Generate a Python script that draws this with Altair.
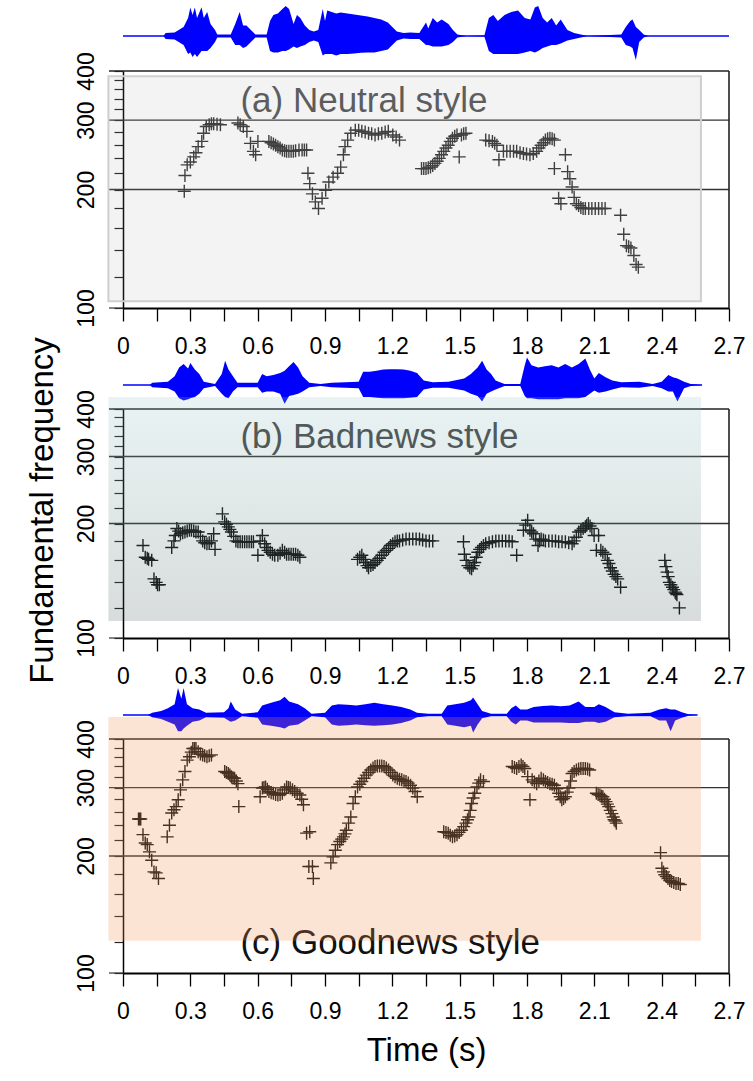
import altair as alt
import pandas as pd

FONT = "Liberation Sans"
CROSS = "M-1,0L1,0M0,-1L0,1"

# ---------------- tick values ----------------
x_tick_values = [0, 0.15, 0.3, 0.45, 0.6, 0.75, 0.9, 1.05, 1.2, 1.35, 1.5, 1.65,
                 1.8, 1.95, 2.1, 2.25, 2.4, 2.55, 2.7]
y_tick_values = [100, 120, 140, 160, 180, 200, 220, 240, 260, 280, 300, 320, 340,
                 360, 380, 400]
grid_values = [200, 300]
top_values = [400]
bottom_values = [100]

# ---------------- (a) Neutral: F0 (s, Hz) ----------------
a_t = [0.273, 0.276, 0.286, 0.300, 0.315, 0.325, 0.335, 0.351, 0.359, 0.371, 0.384, 0.394, 0.404, 0.419, 0.434,
       0.512, 0.522, 0.536, 0.552, 0.568, 0.581, 0.591, 0.601,
       0.650, 0.660, 0.670, 0.680, 0.690, 0.700, 0.710, 0.720, 0.729, 0.739, 0.749, 0.759, 0.769, 0.784, 0.798, 0.808, 0.818,
       0.824, 0.832, 0.844, 0.857, 0.871, 0.887, 0.903, 0.917, 0.936, 0.956, 0.970, 0.982, 0.989, 1.001, 1.015, 1.035,
       1.050, 1.064, 1.079, 1.094, 1.108, 1.123, 1.138, 1.153, 1.168, 1.182, 1.202, 1.217, 1.232,
       1.330, 1.340, 1.350, 1.360, 1.370, 1.380, 1.390, 1.400, 1.409, 1.419, 1.429, 1.439, 1.449, 1.458, 1.468, 1.478,
       1.488, 1.498, 1.508, 1.518, 1.528,
       1.616, 1.631, 1.646, 1.656, 1.666, 1.675, 1.695, 1.710, 1.725, 1.740, 1.754, 1.769, 1.784, 1.798, 1.813, 1.828,
       1.843, 1.853, 1.863, 1.873, 1.882, 1.892, 1.902, 1.912, 1.922,
       1.922, 1.941, 1.951, 1.971, 1.981, 1.991, 2.001, 2.010, 2.020, 2.030, 2.040, 2.050, 2.060, 2.075, 2.089, 2.104,
       2.119, 2.134, 2.148,
       2.217, 2.231, 2.243, 2.253, 2.263, 2.276, 2.286, 2.296]
a_f = [198, 217, 231, 235, 242, 248, 257, 265, 278, 289, 292, 294, 294, 293, 292,
       295, 292, 289, 281, 262, 250, 245, 265,
       265, 263, 261, 259, 257, 255, 252, 251, 250, 250, 250, 250, 251, 252, 252, 252, 252,
       220, 207, 195, 186, 179, 190, 199, 209, 215, 220, 228, 245, 257, 267, 278, 283,
       283, 281, 280, 278, 277, 275, 277, 278, 280, 281, 275, 272, 267,
       226, 226, 226, 227, 228, 230, 233, 236, 240, 245, 250, 255, 259, 265, 270, 273,
       275, 242, 275, 277, 278,
       267, 266, 265, 262, 259, 238, 250, 250, 250, 250, 250, 248, 247, 246, 245, 247,
       250, 255, 259, 263, 267, 269, 270, 269, 267,
       226, 190, 184, 245, 222, 213, 203, 191, 184, 182, 180, 179, 179, 179, 179, 179,
       179, 179, 179,
       172, 154, 144, 143, 142, 136, 129, 127]

# ---------------- (b) Badnews: F0 ----------------
b_t = [0.089, 0.099, 0.108, 0.114, 0.128, 0.138, 0.148, 0.154, 0.162,
       0.217, 0.227, 0.233, 0.240, 0.248, 0.256, 0.266, 0.276, 0.286, 0.296, 0.305, 0.315, 0.325, 0.335, 0.345, 0.355,
       0.364, 0.374, 0.384, 0.394, 0.404, 0.410,
       0.443, 0.453, 0.461, 0.469, 0.476, 0.483, 0.493, 0.503, 0.512, 0.522, 0.532, 0.542, 0.552, 0.562, 0.572, 0.581,
       0.601, 0.611, 0.621, 0.631, 0.639, 0.646, 0.656, 0.666, 0.676, 0.690, 0.700, 0.710, 0.720, 0.729, 0.739, 0.749,
       0.759, 0.769, 0.779, 0.788,
       1.045, 1.055, 1.064, 1.072, 1.080, 1.087, 1.094, 1.104, 1.114, 1.123, 1.133, 1.143, 1.153, 1.163, 1.173, 1.183,
       1.192, 1.202, 1.212, 1.222, 1.232, 1.246, 1.261, 1.276, 1.291, 1.306, 1.321, 1.335, 1.350, 1.365, 1.380,
       1.517, 1.521, 1.529, 1.537, 1.545, 1.553, 1.560, 1.567, 1.574, 1.581, 1.589, 1.597, 1.606, 1.616, 1.631, 1.646,
       1.661, 1.675, 1.690, 1.705, 1.720, 1.734, 1.754,
       1.784, 1.794, 1.803, 1.813, 1.821, 1.829, 1.839, 1.849, 1.856, 1.863, 1.873, 1.882, 1.897, 1.912, 1.927, 1.941,
       1.956, 1.971, 1.986, 2.001, 2.010, 2.020, 2.030, 2.040, 2.050, 2.060, 2.066, 2.073, 2.081, 2.089, 2.099, 2.109,
       2.119, 2.129, 2.138, 2.148, 2.158, 2.165, 2.172, 2.180, 2.188, 2.196, 2.204, 2.217,
       2.414, 2.419, 2.424, 2.429, 2.434, 2.441, 2.448, 2.454, 2.460, 2.464, 2.468, 2.479]
b_f = [175, 163, 162, 161, 160, 143, 140, 138, 138,
       173, 180, 186, 194, 191, 188, 189, 190, 191, 192, 192, 191, 190, 190, 185, 180,
       178, 177, 178, 180, 188, 171,
       212, 202, 199, 196, 193, 190, 185, 180, 179, 179, 179, 179, 179, 179, 179, 179,
       165, 180, 186, 177, 173, 170, 168, 166, 165, 165, 167, 170, 168, 166, 166, 166,
       166, 166, 165, 163,
       161, 163, 165, 161, 158, 155, 153, 155, 156, 158, 160, 162, 165, 168, 170, 172,
       175, 177, 179, 180, 180, 181, 182, 182, 182, 182, 182, 181, 180, 180, 180,
       179, 166, 160, 155, 153, 152, 155, 158, 163, 168, 171, 173, 175, 177, 178, 179,
       180, 180, 180, 180, 180, 179, 165,
       192, 198, 204, 192, 190, 188, 182, 175, 180, 182, 181, 180, 180, 180, 180, 179,
       179, 179, 178, 177, 180, 184, 190, 192, 194, 196, 198, 200, 197, 194, 186, 170,
       186, 170, 168, 166, 160, 157, 153, 150, 147, 145, 143, 136,
       160, 154, 149, 145, 140, 138, 136, 134, 132, 131, 130, 120]

# ---------------- (c) Goodnews: F0 ----------------
c_t = [0.069, 0.074, 0.079, 0.089, 0.099, 0.108, 0.118, 0.128, 0.138, 0.148, 0.158,
       0.197, 0.207, 0.217, 0.227, 0.237, 0.246, 0.256, 0.266, 0.276, 0.286, 0.296, 0.304, 0.311, 0.318, 0.325, 0.335,
       0.345, 0.355, 0.364, 0.374, 0.384, 0.394,
       0.453, 0.461, 0.469, 0.476, 0.483, 0.490, 0.497, 0.505, 0.512, 0.516,
       0.611, 0.621, 0.628, 0.635, 0.643, 0.650, 0.660, 0.670, 0.680, 0.690, 0.700, 0.710, 0.720, 0.729, 0.737, 0.745,
       0.755, 0.765, 0.776, 0.788, 0.796, 0.804, 0.818, 0.832,
       0.828, 0.844, 0.848,
       0.926, 0.936, 0.946, 0.956, 0.966, 0.974, 0.982, 0.989, 0.995, 1.005, 1.015, 1.025, 1.035, 1.045, 1.055, 1.064,
       1.074, 1.084, 1.094, 1.104, 1.114, 1.123, 1.133, 1.143, 1.153, 1.163, 1.173, 1.183, 1.192, 1.202, 1.212, 1.222,
       1.232, 1.242, 1.252, 1.261, 1.271, 1.281, 1.291, 1.301, 1.311,
       1.429, 1.439, 1.449, 1.458, 1.468, 1.478, 1.488, 1.498, 1.508, 1.518, 1.528, 1.535, 1.541, 1.547, 1.553, 1.560,
       1.567, 1.577, 1.585, 1.593, 1.606,
       1.734, 1.744, 1.754, 1.764, 1.774, 1.782, 1.790, 1.803, 1.813, 1.823, 1.833, 1.843, 1.853, 1.863, 1.873, 1.882,
       1.892, 1.902, 1.912, 1.922, 1.932, 1.941, 1.948, 1.955, 1.963, 1.971, 1.979, 1.987, 1.994, 2.001, 2.010, 2.020,
       2.030, 2.040, 2.050, 2.060, 2.070, 2.079,
       2.109, 2.117, 2.125, 2.132, 2.138, 2.145, 2.152, 2.158, 2.164, 2.171, 2.178, 2.184, 2.188, 2.193, 2.198,
       2.395, 2.401, 2.408, 2.414, 2.421, 2.428, 2.436, 2.444, 2.454, 2.464, 2.474, 2.483]
c_f = [249, 249, 249, 227, 216, 214, 205, 195, 182, 181, 175,
       224, 240, 258, 263, 268, 279, 296, 314, 330, 353, 360, 370, 378, 378, 378, 371,
       366, 364, 362, 360, 362, 364,
       330, 328, 326, 323, 320, 318, 317, 312, 307, 268,
       284, 299, 300, 301, 297, 293, 291, 290, 288, 287, 288, 290, 296, 301, 300, 299,
       296, 293, 290, 287, 280, 271, 229, 231,
       188, 188, 175,
       192, 199, 207, 214, 218, 221, 224, 228, 233, 243, 252, 273, 284, 301, 306, 311,
       317, 323, 328, 333, 337, 340, 341, 341, 341, 340, 337, 333, 328, 323, 320, 317,
       315, 314, 312, 311, 308, 304, 299, 293, 284,
       231, 230, 229, 226, 224, 225, 227, 230, 233, 238, 243, 248, 252, 262, 273, 282,
       290, 301, 308, 314, 311,
       340, 338, 336, 340, 343, 340, 336, 320, 279, 314, 310, 307, 312, 317, 314, 311,
       309, 307, 306, 304, 298, 290, 284, 279, 281, 284, 292, 299, 312, 326, 330, 333,
       335, 336, 336, 336, 335, 333,
       290, 288, 287, 285, 284, 280, 276, 272, 268, 262, 257, 252, 248, 246, 243,
       204, 186, 182, 179, 177, 175, 173, 172, 171, 170, 170, 169]

# ---------------- waveform envelopes (time s, upper, lower; relative amplitude) ----------------
wa_t = [0, 0.18, 0.19, 0.23, 0.27, 0.29, 0.30, 0.31, 0.32, 0.33, 0.35, 0.36, 0.375, 0.39, 0.41, 0.42, 0.48, 0.50,
        0.52, 0.535, 0.55, 0.57, 0.59, 0.64, 0.655, 0.67, 0.69, 0.71, 0.725, 0.74, 0.76, 0.775, 0.79, 0.81, 0.83,
        0.85, 0.87, 0.89, 0.90, 0.91, 0.93, 0.95, 0.97, 1.00, 1.03, 1.06, 1.09, 1.12, 1.15, 1.18, 1.20, 1.22, 1.25,
        1.28, 1.32, 1.35, 1.36, 1.38, 1.40, 1.42, 1.45, 1.47, 1.49, 1.53, 1.61, 1.63, 1.65, 1.67, 1.70, 1.73, 1.76,
        1.79, 1.815, 1.835, 1.85, 1.87, 1.89, 1.91, 1.93, 1.95, 1.98, 2.01, 2.04, 2.07, 2.22, 2.24, 2.26, 2.27,
        2.285, 2.30, 2.32, 2.34, 2.70]
wa_hi = [0, 0, 0.1, 0.12, 0.3, 0.6, 0.95, 0.7, 0.95, 0.6, 0.96, 0.6, 0.8, 0.4, 0.2, 0.05, 0.05, 0.4,
         0.8, 0.35, 0.35, 0.2, 0.05, 0.05, 0.5, 0.7, 0.75, 0.9, 1.0, 0.9, 0.4, 0.7, 0.6, 0.35, 0.2,
         0.15, 0.2, 0.9, 0.5, 0.85, 0.8, 0.75, 0.78, 0.75, 0.72, 0.68, 0.65, 0.6, 0.55, 0.45, 0.3, 0.15, 0.1,
         0.12, 0.1, 0.45, 0.25, 0.6, 0.45, 0.55, 0.4, 0.2, 0.05, 0, 0.02, 0.6, 0.7, 0.5, 0.7, 0.8, 0.85,
         0.6, 0.55, 0.95, 1.0, 0.6, 0.45, 0.6, 0.35, 0.55, 0.2, 0.1, 0.05, 0, 0.05, 0.3, 0.5, 0.55,
         0.3, 0.2, 0.05, 0, 0]
wa_lo = [0, 0, -0.1, -0.12, -0.3, -0.6, -0.55, -0.7, -0.6, -0.7, -0.5, -0.5, -0.5, -0.4, -0.2, -0.05, -0.05, -0.3,
         -0.3, -0.4, -0.35, -0.2, -0.05, -0.05, -0.5, -0.55, -0.55, -0.5, -0.5, -0.45, -0.35, -0.4, -0.35, -0.3, -0.2,
         -0.15, -0.2, -0.65, -0.6, -0.6, -0.6, -0.65, -0.6, -0.6, -0.58, -0.56, -0.55, -0.55, -0.5, -0.45, -0.3, -0.15,
         -0.08, -0.1, -0.1, -0.3, -0.3, -0.35, -0.35, -0.35, -0.3, -0.2, -0.05, 0, -0.02, -0.5, -0.6, -0.6, -0.6,
         -0.6, -0.6, -0.55, -0.5, -0.55, -0.5, -0.4, -0.35, -0.3, -0.3, -0.25, -0.15, -0.1, -0.05, 0, -0.05, -0.3,
         -0.35, -0.4, -0.8, -0.2, -0.05, 0, 0]

wb_t = [0, 0.12, 0.13, 0.20, 0.23, 0.25, 0.27, 0.29, 0.30, 0.32, 0.34, 0.36, 0.41, 0.44, 0.455, 0.47, 0.49, 0.51,
        0.60, 0.62, 0.64, 0.67, 0.70, 0.72, 0.74, 0.76, 0.78, 0.80, 0.83, 0.88, 0.93, 1.05, 1.07, 1.10, 1.13, 1.16,
        1.19, 1.22, 1.25, 1.28, 1.31, 1.34, 1.38, 1.45, 1.52, 1.55, 1.58, 1.60, 1.62, 1.64, 1.66, 1.70, 1.77, 1.79,
        1.80, 1.82, 1.85, 1.88, 1.91, 1.94, 1.97, 2.00, 2.03, 2.06, 2.08, 2.10, 2.12, 2.15, 2.18, 2.22, 2.30, 2.36,
        2.40, 2.43, 2.45, 2.47, 2.50, 2.53, 2.58]
wb_hi = [0, 0, 0.1, 0.15, 0.4, 0.8, 0.95, 0.75, 1.0, 0.7, 0.5, 0.15, 0.05, 0.5, 1.1, 0.7, 0.4, 0.1,
         0.1, 0.5, 0.4, 0.45, 0.55, 0.65, 0.85, 1.05, 0.8, 0.4, 0.1, 0.05, 0.1, 0.15, 0.6, 0.6, 0.65, 0.7,
         0.72, 0.72, 0.7, 0.65, 0.55, 0.2, 0.12, 0.15, 0.3, 0.5, 0.8, 1.1, 0.7, 0.5, 0.2, 0.05, 0.05, 0.9,
         1.25, 0.9, 0.8, 0.85, 0.9, 0.8, 0.95, 0.8, 0.95, 1.2, 0.7, 0.3, 0.55, 0.35, 0.2, 0.12, 0.15, 0.05,
         0.15, 0.45, 0.35, 0.3, 0.15, 0.05, 0]
wb_lo = [0, 0, -0.1, -0.15, -0.3, -0.6, -0.7, -0.65, -0.6, -0.55, -0.4, -0.15, -0.05, -0.4, -0.55, -0.6, -0.3, -0.1,
         -0.1, -0.35, -0.3, -0.3, -0.4, -0.85, -0.5, -0.45, -0.4, -0.3, -0.1, -0.05, -0.1, -0.15, -0.55, -0.55, -0.58,
         -0.6, -0.6, -0.6, -0.6, -0.58, -0.55, -0.2, -0.12, -0.12, -0.25, -0.4, -0.5, -0.75, -0.4, -0.3, -0.2, -0.05,
         -0.05, -0.5, -0.6, -0.6, -0.65, -0.65, -0.65, -0.65, -0.6, -0.6, -0.6, -0.55, -0.4, -0.25, -0.35, -0.3, -0.2,
         -0.1, -0.12, -0.05, -0.15, -0.3, -0.3, -0.75, -0.15, -0.05, 0]

wc_t = [0, 0.11, 0.13, 0.17, 0.20, 0.23, 0.245, 0.26, 0.27, 0.285, 0.31, 0.34, 0.37, 0.45, 0.47, 0.48, 0.50, 0.53,
        0.60, 0.62, 0.66, 0.70, 0.72, 0.74, 0.78, 0.81, 0.84, 0.90, 0.93, 0.96, 1.00, 1.04, 1.08, 1.12, 1.16, 1.20,
        1.24, 1.28, 1.31, 1.36, 1.42, 1.445, 1.48, 1.52, 1.55, 1.56, 1.58, 1.60, 1.64, 1.71, 1.73, 1.75, 1.77, 1.80,
        1.83, 1.87, 1.91, 1.95, 1.99, 2.03, 2.06, 2.10, 2.12, 2.15, 2.19, 2.25, 2.35, 2.39, 2.42, 2.44, 2.46, 2.49,
        2.52, 2.56]
wc_hi = [0, 0, 0.08, 0.15, 0.25, 0.4, 1.0, 0.6, 1.0, 0.4, 0.25, 0.2, 0.08, 0.1, 0.25, 0.5, 0.2, 0.05,
         0.1, 0.35, 0.45, 0.55, 0.68, 0.5, 0.4, 0.25, 0.05, 0.08, 0.35, 0.4, 0.38, 0.35, 0.4, 0.45, 0.4, 0.35,
         0.3, 0.2, 0.08, 0.05, 0.05, 0.35, 0.4, 0.45, 0.55, 0.65, 0.4, 0.15, 0.05, 0.05, 0.25, 0.35, 0.2, 0.2,
         0.3, 0.33, 0.35, 0.32, 0.35, 0.5, 0.3, 0.3, 0.4, 0.3, 0.1, 0.05, 0.08, 0.2, 0.25, 0.2, 0.2, 0.1,
         0.03, 0]
wc_lo = [0, 0, -0.08, -0.15, -0.25, -0.35, -0.6, -0.6, -0.5, -0.4, -0.25, -0.2, -0.08, -0.1, -0.2, -0.25, -0.2, -0.05,
         -0.1, -0.35, -0.4, -0.45, -0.5, -0.4, -0.35, -0.2, -0.05, -0.08, -0.35, -0.4, -0.38, -0.35, -0.38, -0.4, -0.38,
         -0.35, -0.3, -0.2, -0.08, -0.05, -0.05, -0.35, -0.4, -0.45, -0.4, -0.65, -0.35, -0.12, -0.05, -0.05, -0.25,
         -0.35, -0.2, -0.2, -0.28, -0.28, -0.28, -0.28, -0.3, -0.3, -0.25, -0.25, -0.3, -0.25, -0.08, -0.05, -0.05,
         -0.2, -0.2, -0.6, -0.2, -0.1, -0.03, 0]

# ---------------- panel labels and shaded boxes ----------------
labels = ["(a) Neutral style", "(b) Badnews style", "(c) Goodnews style"]
label_t = [0.523, 0.523, 0.523]
label_f = [336, 338, 119.5]
box_t0 = [-0.065, -0.065, -0.065]
box_t1 = [2.575, 2.575, 2.575]
box_f0 = [104, 110.8, 121]
box_f1 = [388, 430, 456]

# ---------------- layout ----------------
W = 606
HEIGHTS = [237, 229, 234]
WAVE_DOMAINS = [[-9.067, -1.167], [-11.5, -1.091], [-9.556, -0.889]]

xs = alt.Scale(domain=[0, 2.7], nice=False, zero=False)
ys = alt.Scale(type="log", domain=[100, 400], nice=False)


def make_panel(i, f_t, f_f, w_t, w_hi, w_lo, cross_color, label_color, box_style,
               x_title=None, y_title=None):
    H = HEIGHTS[i]
    xaxis = alt.Axis(values=x_tick_values,
                     labelExpr="(round(datum.value*100) % 30 == 0) ? format(datum.value, '~g') : ''",
                     tickSize=13, tickWidth=1.3, tickColor="black",
                     domainColor="black", domainWidth=2,
                     labelFont=FONT, labelFontSize=23, labelColor="black",
                     labelPadding=14, labelFlush=False, labelOverlap=False, grid=False,
                     title=x_title, titleFont=FONT, titleFontSize=33, titleFontWeight="normal",
                     titleColor="black", titleY=87, titleBaseline="alphabetic")
    yaxis = alt.Axis(values=y_tick_values,
                     labelExpr="datum.value % 100 == 0 ? format(datum.value, 'd') : ''",
                     tickSize=9, tickWidth=1.2, tickColor="#222222",
                     domainColor="black", domainWidth=1.5,
                     labelFont=FONT, labelFontSize=23, labelColor="black",
                     labelAngle=270, labelAlign="center", labelBaseline="alphabetic",
                     labelPadding=21, labelOverlap=False, labelFlush=False, grid=False,
                     title=y_title, titleFont=FONT, titleFontSize=33, titleFontWeight="normal",
                     titleColor="black", titleAngle=270, titleX=-71, titleY=101,
                     titleAlign="center", titleBaseline="alphabetic")
    X = lambda f: alt.X(f, scale=xs, axis=xaxis)
    Y = lambda f: alt.Y(f, scale=ys, axis=yaxis)

    f0 = pd.DataFrame({"t": f_t, "f": f_f})
    grid = alt.Chart(pd.DataFrame({"f": grid_values})).mark_rule(color="#333333", strokeWidth=1.3).encode(
        x=alt.value(-14), x2=alt.value(W), y=Y("f:Q"))
    top = alt.Chart(pd.DataFrame({"f": top_values})).mark_rule(color="#222222", strokeWidth=1.6).encode(
        x=alt.value(-14), x2=alt.value(W), y=Y("f:Q"))
    stub = alt.Chart(pd.DataFrame({"f": bottom_values})).mark_rule(color="#333333", strokeWidth=1.2).encode(
        x=alt.value(-14), x2=alt.value(0), y=Y("f:Q"))
    right = alt.Chart(pd.DataFrame({"f": bottom_values})).mark_rule(color="#222222", strokeWidth=1.6).encode(
        x=alt.value(W), y=alt.value(0), y2=alt.value(H))
    pts = alt.Chart(f0).mark_point(shape=CROSS, filled=False, size=169, strokeWidth=1.4,
                                   color=cross_color, opacity=1).encode(x=X("t:Q"), y=Y("f:Q"))
    lab = alt.Chart(pd.DataFrame({"t": [label_t[i]], "f": [label_f[i]], "label": [labels[i]]})).mark_text(
        align="left", baseline="middle", font=FONT, fontSize=35, color=label_color).encode(
        x=X("t:Q"), y=Y("f:Q"), text="label:N")
    inner1 = alt.layer(grid, top, stub, right, pts, lab)

    wscale = alt.Scale(domain=WAVE_DOMAINS[i], nice=False, zero=False)
    wdf = pd.DataFrame({"t": w_t, "hi": w_hi, "lo": w_lo})
    area = alt.Chart(wdf).mark_area(color="#0000ff", opacity=1).encode(
        x=X("t:Q"), y=alt.Y("hi:Q", scale=wscale, axis=None), y2="lo:Q")
    base = alt.Chart(wdf).transform_aggregate(t0="min(t)", t1="max(t)").transform_calculate(
        z="0").mark_rule(color="#0000ff", strokeWidth=1.3).encode(
        x=X("t0:Q"), x2="t1:Q", y=alt.Y("z:Q", scale=wscale, axis=None))
    inner2 = alt.layer(area, base)

    bdf = pd.DataFrame({"x0": [box_t0[i]], "x1": [box_t1[i]], "y0": [box_f0[i]], "y1": [box_f1[i]]})
    box = alt.Chart(bdf).mark_rect(**box_style).encode(
        x=X("x0:Q"), x2="x1:Q", y=alt.Y("y0:Q", scale=ys, axis=None), y2="y1:Q")

    return alt.layer(inner1, inner2, box).resolve_scale(y="independent").properties(width=W, height=H)


grad_b = alt.LinearGradient(gradient="linear",
                            stops=[alt.GradientStop(color="#91c3c3", offset=0),
                                   alt.GradientStop(color="#3c5050", offset=1)],
                            x1=0, x2=0, y1=0, y2=1)

pa = make_panel(0, a_t, a_f, wa_t, wa_hi, wa_lo, "#343434", "#555555",
                dict(fill="#9a9a9a", fillOpacity=0.12, stroke="#cfcfcf", strokeWidth=2))
pb = make_panel(1, b_t, b_f, wb_t, wb_hi, wb_lo, "#111111", "#444444",
                dict(fill=grad_b, opacity=0.2), y_title="Fundamental frequency")
pc = make_panel(2, c_t, c_f, wc_t, wc_hi, wc_lo, "#111111", "#111111",
                dict(fill="#f39357", opacity=0.25), x_title="Time (s)")

chart = alt.vconcat(pa, pb, pc, spacing=101, bounds="flush").properties(
    padding={"left": 25, "top": 5, "right": 5, "bottom": 5}, background="white"
).configure_view(strokeWidth=0)

chart.save("out.html", embed_options={"renderer": "svg", "actions": False})
